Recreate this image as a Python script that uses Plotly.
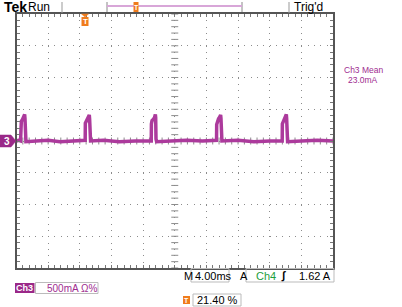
import plotly.graph_objects as go
import numpy as np

# ---- data ----
time_ms = [
    0.00, 0.25, 0.51, 0.53, 0.61, 0.76, 0.93, 1.03, 1.07, 1.11, 1.19,
    2.5, 4.0, 5.5, 7.0, 8.68, 8.70, 8.78, 8.93, 9.10, 9.20, 9.24, 9.28, 9.36,
    11.0, 13.0, 15.0, 17.03, 17.05, 17.13, 17.28, 17.45, 17.55, 17.59, 17.63, 17.71,
    19.5, 21.5, 23.5, 25.28, 25.30, 25.38, 25.53, 25.70, 25.80, 25.84, 25.88, 25.96,
    28.0, 30.0, 32.0, 33.58, 33.60, 33.68, 33.83, 33.99, 34.10, 34.14, 34.18, 34.26,
    36.0, 38.0, 40.0,
]
ch3_amps = [
    0.00, 0.01, 0.00, 0.27, 0.31, 0.34, 0.38, 0.42, 0.36, 0.03, -0.01,
    0.00, 0.01, -0.01, 0.00, 0.01, 0.28, 0.30, 0.35, 0.39, 0.41, 0.35, 0.02, 0.00,
    0.01, -0.01, 0.00, 0.00, 0.27, 0.32, 0.34, 0.37, 0.42, 0.37, 0.03, -0.01,
    0.00, 0.01, 0.00, 0.01, 0.26, 0.31, 0.35, 0.38, 0.41, 0.36, 0.02, 0.00,
    0.01, -0.01, 0.00, 0.00, 0.27, 0.30, 0.34, 0.38, 0.42, 0.36, 0.03, -0.01,
    0.00, 0.01, 0.00,
]
ms_per_div = 4.0
amps_per_div = 0.5
n_xdiv = 10
n_ydiv = 8

W, H = 402, 307
def X(px): return px / W
def Y(py): return 1 - py / H

TRACE = "#ac3a9c"
PURPLE = "#a02c90"
ORANGE = "#f07c1c"
GRID = "#8c8c8c"
FONT = "Liberation Sans"

fig = go.Figure()

# center-line graticule ticks
xr = [0, ms_per_div * n_xdiv]
yr = [-amps_per_div * n_ydiv / 2, amps_per_div * n_ydiv / 2]
cx = np.arange(0, xr[1] + 1e-9, ms_per_div / 5)
cy = np.arange(yr[0], yr[1] + 1e-9, amps_per_div / 5)
fig.add_trace(go.Scatter(x=cx, y=[0] * len(cx), mode="markers",
                         marker=dict(symbol="line-ns-open", size=5, color=GRID, line=dict(color=GRID, width=1)),
                         hoverinfo="skip"))
fig.add_trace(go.Scatter(x=[xr[1] / 2] * len(cy), y=cy, mode="markers",
                         marker=dict(symbol="line-ew-open", size=5, color=GRID, line=dict(color=GRID, width=1)),
                         hoverinfo="skip"))

# waveform
fig.add_trace(go.Scatter(x=time_ms, y=ch3_amps, mode="lines",
                         line=dict(color=TRACE, width=3.5), hoverinfo="skip"))

fig.update_xaxes(range=xr, domain=[X(16.5), X(333)], dtick=ms_per_div, showticklabels=False,
                 showgrid=True, gridcolor=GRID, gridwidth=1, griddash="1px,5.35px",
                 zeroline=False, showline=True, linecolor="#555555", linewidth=2, mirror="ticks",
                 ticks="inside", ticklen=3, tickcolor="#777777",
                 minor=dict(dtick=ms_per_div / 5, ticks="inside", ticklen=3, tickcolor="#777777", showgrid=False))
fig.update_yaxes(range=yr, domain=[Y(268), Y(14)], dtick=amps_per_div, showticklabels=False,
                 showgrid=True, gridcolor=GRID, gridwidth=1, griddash="1px,5.33px",
                 zeroline=False, showline=True, linecolor="#555555", linewidth=2, mirror="ticks",
                 ticks="inside", ticklen=3, tickcolor="#777777",
                 minor=dict(dtick=amps_per_div / 5, ticks="inside", ticklen=3, tickcolor="#777777", showgrid=False))

shapes = []
ann = []

def text(px, py, s, size=11, color="black", anchor="left", bold=False):
    ann.append(dict(x=X(px), y=Y(py), xref="paper", yref="paper", text=("<b>%s</b>" % s) if bold else s,
                    showarrow=False, xanchor=anchor, yanchor="middle",
                    font=dict(family=FONT, size=size, color=color)))

def vline(px, y0, y1, color="#999999", w=1):
    shapes.append(dict(type="line", xref="paper", yref="paper", x0=X(px), x1=X(px), y0=Y(y0), y1=Y(y1),
                       line=dict(color=color, width=w)))

def rect(x0, y0, x1, y1, fill=None, line="#bbbbbb", w=1):
    shapes.append(dict(type="rect", xref="paper", yref="paper", x0=X(x0), x1=X(x1), y0=Y(y1), y1=Y(y0),
                       fillcolor=fill if fill else "rgba(0,0,0,0)", line=dict(color=line, width=w if line else 0)))

def path(points, fill, line=None):
    d = "M" + " L".join("%f,%f" % (X(a), Y(b)) for a, b in points) + " Z"
    shapes.append(dict(type="path", xref="paper", yref="paper", path=d, fillcolor=fill,
                       line=dict(color=line if line else fill, width=0.5)))

# top bar
text(2, 7, "Tek", size=14, bold=True)
text(26, 7, "Run", size=12)
vline(62, 2, 13)
vline(107, 2, 12, color="#888888")
vline(242, 2, 12, color="#888888")
shapes.append(dict(type="line", xref="paper", yref="paper", x0=X(107), x1=X(242), y0=Y(6), y1=Y(6),
                   line=dict(color="#d8a6d8", width=2)))
rect(133.5, 2, 138.5, 12, fill=ORANGE, line=None, w=0)
text(136, 7.5, "T", size=7, color="white", anchor="center", bold=True)
vline(289, 2, 13)
text(292, 7, "Trig'd", size=12)

# trigger-position marker
path([(81.5, 14), (88.5, 14), (85, 17)], ORANGE)
rect(81.5, 17, 88.5, 26, fill=ORANGE, line=None, w=0)
text(85, 21.5, "T", size=8, color="white", anchor="center", bold=True)

# channel 3 ground marker
path([(0, 135), (11, 135), (16, 141), (11, 147), (0, 147)], "#9a2888")
text(6.5, 141, "3", size=10, color="white", anchor="center", bold=True)

# measurement readout
text(363, 70, "Ch3 Mean", size=8.5, color=PURPLE, anchor="center")
text(363, 80, "23.0mA", size=8.5, color=PURPLE, anchor="center")

# bottom readouts
text(182, 275.5, "M", size=11)
rect(191, 268.5, 229, 282)
text(193, 275.5, "4.00ms", size=11)
text(238, 275.5, "A", size=11)
rect(246, 268.5, 334, 282)
text(254, 275.5, "Ch4", size=11, color="#1e9e3c")
text(283, 275.5, "<i>∫</i>", size=11, color="black", anchor="center", bold=True)
text(333, 275.5, "1.62 A", size=11, anchor="right")

rect(15, 283, 34.5, 293, fill="#9a2888", line=None, w=0)
text(24.8, 288, "Ch3", size=9, color="white", anchor="center", bold=True)
rect(35.5, 282.5, 98, 293.5)
text(45, 288, "500mA Ω%", size=10, color=PURPLE)

rect(183, 296, 190, 304, fill=ORANGE, line=None, w=0)
text(186.5, 300, "T", size=7, color="white", anchor="center", bold=True)
rect(193, 294, 241, 306)
text(195, 300, "21.40 %", size=11)

fig.update_layout(width=W, height=H, margin=dict(l=0, r=0, t=0, b=0),
                  paper_bgcolor="white", plot_bgcolor="white", showlegend=False,
                  hovermode=False, shapes=shapes, annotations=ann)

fig.write_html("out.html")
